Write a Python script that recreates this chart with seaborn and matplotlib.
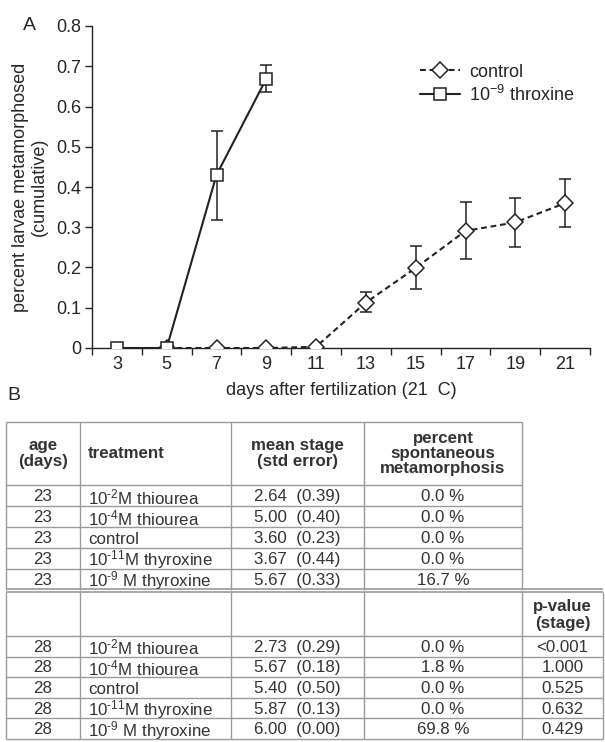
import matplotlib
matplotlib.use("Agg")
import matplotlib.pyplot as plt
import seaborn as sns

# panel A data
ctrl_days = [5, 7, 9, 11, 13, 15, 17, 19, 21]
ctrl_mean = [0.0, 0.0, 0.0, 0.003, 0.113, 0.199, 0.291, 0.312, 0.360]
ctrl_lo = [0.0, 0.0, 0.0, 0.003, 0.089, 0.146, 0.222, 0.252, 0.301]
ctrl_hi = [0.0, 0.0, 0.0, 0.003, 0.139, 0.254, 0.362, 0.372, 0.421]

thyr_days = [3, 5, 7, 9]
thyr_mean = [0.0, 0.0, 0.430, 0.669]
thyr_lo = [0.0, 0.0, 0.317, 0.636]
thyr_hi = [0.0, 0.0, 0.538, 0.702]

x_labels = ["3", "5", "7", "9", "11", "13", "15", "17", "19", "21"]

# panel B table
age_23 = ["23", "23", "23", "23", "23"]
age_28 = ["28", "28", "28", "28", "28"]
treatments = ["10$^{\u2010 2}$M thiourea", "10$^{\u2010 4}$M thiourea", "control",
              "10$^{\u2010 11}$M thyroxine", "10$^{\u2010 9}$ M thyroxine"]
stage_23 = [2.64, 5.00, 3.60, 3.67, 5.67]
se_23 = [0.39, 0.40, 0.23, 0.44, 0.33]
pct_23 = [0.0, 0.0, 0.0, 0.0, 16.7]
stage_28 = [2.73, 5.67, 5.40, 5.87, 6.00]
se_28 = [0.29, 0.18, 0.50, 0.13, 0.00]
pct_28 = [0.0, 1.8, 0.0, 0.0, 69.8]
pvals_28 = ["<0.001", "1.000", "0.525", "0.632", "0.429"]

sns.set_style("ticks")
plt.rcParams["font.family"] = ["Liberation Sans", "DejaVu Sans"]
plt.rcParams["mathtext.fontset"] = "custom"
plt.rcParams["mathtext.rm"] = "Liberation Sans"
plt.rcParams["mathtext.bf"] = "Liberation Sans:bold"
plt.rcParams["mathtext.default"] = "regular"

W, H = 605, 742
fig = plt.figure(figsize=(W / 100, H / 100), dpi=100)

# ---- panel A ----
ax = fig.add_axes([92 / W, 1 - 348 / H, 498 / W, 322 / H])
fs = 13

def draw_err(days, mean, lo, hi):
    # only points that actually have a spread get a bar
    keep = [i for i in range(len(days)) if hi[i] > lo[i]]
    x = [days[i] for i in keep]
    y = [mean[i] for i in keep]
    e = [[mean[i] - lo[i] for i in keep], [hi[i] - mean[i] for i in keep]]
    ax.errorbar(x, y, yerr=e, fmt="none", ecolor="#222222", elinewidth=1.1,
                capsize=4, capthick=1.1, zorder=2)

draw_err(ctrl_days, ctrl_mean, ctrl_lo, ctrl_hi)
draw_err(thyr_days, thyr_mean, thyr_lo, thyr_hi)

sns.lineplot(x=ctrl_days, y=ctrl_mean, ax=ax, color="#222222", linestyle=(0, (2.8, 1.8)),
             linewidth=1.5, marker="D", markersize=8, markerfacecolor="white",
             markeredgecolor="#222222", markeredgewidth=1.1, label="control", zorder=3)
sns.lineplot(x=thyr_days, y=thyr_mean, ax=ax, color="#222222", linestyle="-",
             linewidth=1.5, marker="s", markersize=8, markerfacecolor="white",
             markeredgecolor="#222222", markeredgewidth=1.1,
             label="10$^{-9}$ throxine", zorder=3)

ax.set_xlim(2, 22)
ax.set_ylim(0, 0.8)
ax.set_xticks(range(2, 23, 2))
ax.set_xticklabels([])
ax.set_xticks(range(3, 22, 2), minor=True)
ax.set_xticklabels(x_labels, minor=True)
ax.tick_params(axis="x", which="minor", length=0, labelsize=fs, pad=6)
ax.tick_params(axis="x", which="major", length=5, width=1, direction="out")
ax.set_yticks([0, 0.1, 0.2, 0.3, 0.4, 0.5, 0.6, 0.7, 0.8])
ax.set_yticklabels(["0", "0.1", "0.2", "0.3", "0.4", "0.5", "0.6", "0.7", "0.8"])
ax.tick_params(axis="y", length=5, width=1, labelsize=fs, pad=3)
for s in ["top", "right"]:
    ax.spines[s].set_visible(False)
for s in ["left", "bottom"]:
    ax.spines[s].set_linewidth(1)
    ax.spines[s].set_color("#222222")

ax.set_xlabel("days after fertilization (21  C)", fontsize=fs, labelpad=6)
ax.set_ylabel("percent larvae metamorphosed\n(cumulative)", fontsize=fs, labelpad=6,
              linespacing=1.1)

leg = ax.legend(loc="upper left", bbox_to_anchor=(0.645, 0.905), frameon=False,
                fontsize=fs, handlelength=2.2, handletextpad=0.5, labelspacing=0.2,
                borderaxespad=0)

fig.text(29 / W, 1 - 25 / H, "A", fontsize=14, ha="center", va="center")
fig.text(14 / W, 1 - 395 / H, "B", fontsize=14, ha="center", va="center")

# ---- panel B (table drawn in pixel space) ----
tab = fig.add_axes([0, 0, 1, 1])
tab.set_xlim(0, W)
tab.set_ylim(H, 0)
tab.axis("off")
tab.patch.set_alpha(0)

gc = "#9a9a9a"
cols = [6, 80, 231, 364, 522, 603]
top = 422
h1_bot = 485
rh = 21
sec2 = h1_bot + 5 * rh
h2_bot = 636
bottom = 739
rh2 = (bottom - h2_bot) / 5
tfs = 12.2

def hline(y, x0, x1, lw=1.0):
    tab.plot([x0, x1], [y, y], color=gc, lw=lw, solid_capstyle="butt")

def vline(x, y0, y1, lw=1.0):
    tab.plot([x, x], [y0, y1], color=gc, lw=lw, solid_capstyle="butt")

# upper block: 4 columns
hline(top, cols[0], cols[4])
hline(h1_bot, cols[0], cols[4])
for i in range(1, 5):
    hline(h1_bot + i * rh, cols[0], cols[4])
for c in cols[:5]:
    vline(c, top, sec2)
# section separator (double line)
hline(sec2 - 1, cols[0], cols[5], lw=1.2)
hline(sec2 + 2, cols[0], cols[5], lw=1.2)
# lower block: 5 columns
hline(h2_bot, cols[0], cols[5])
for i in range(1, 5):
    hline(h2_bot + i * rh2, cols[0], cols[5])
hline(bottom, cols[0], cols[5])
for c in cols:
    vline(c, sec2 + 2, bottom)

hy = (top + h1_bot) / 2
tab.text((cols[0] + cols[1]) / 2, hy, "age\n(days)", ha="center", va="center",
         fontsize=tfs, fontweight="bold", color="#333333", linespacing=1.1)
tab.text(cols[1] + 8, hy, "treatment", ha="left", va="center",
         fontsize=tfs, fontweight="bold", color="#333333")
tab.text((cols[2] + cols[3]) / 2, hy, "mean stage\n(std error)", ha="center", va="center",
         fontsize=tfs, fontweight="bold", color="#333333", linespacing=1.1)
tab.text((cols[3] + cols[4]) / 2, hy, "percent\nspontaneous\nmetamorphosis", ha="center",
         va="center", fontsize=tfs, fontweight="bold", color="#333333", linespacing=1.0)
tab.text((cols[4] + cols[5]) / 2, (sec2 + h2_bot) / 2 + 2, "p-value\n(stage)", ha="center",
         va="center", fontsize=tfs, fontweight="bold", color="#333333", linespacing=1.1)

def row(y, age, trt, st, se, pct, pv=None):
    tab.text((cols[0] + cols[1]) / 2, y, age, ha="center", va="center", fontsize=tfs, color="#333333")
    tab.text(cols[1] + 8, y + 0.5, trt, ha="left", va="center", fontsize=tfs, color="#333333")
    tab.text((cols[2] + cols[3]) / 2, y, f"{st:.2f}  ({se:.2f})", ha="center", va="center",
             fontsize=tfs, color="#333333")
    tab.text((cols[3] + cols[4]) / 2, y, f"{pct:.1f} %", ha="center", va="center",
             fontsize=tfs, color="#333333")
    if pv is not None:
        tab.text((cols[4] + cols[5]) / 2, y, pv, ha="center", va="center", fontsize=tfs,
                 color="#333333")

for i in range(5):
    row(h1_bot + (i + 0.5) * rh + 1, age_23[i], treatments[i], stage_23[i], se_23[i], pct_23[i])
    row(h2_bot + (i + 0.5) * rh2 + 1, age_28[i], treatments[i], stage_28[i], se_28[i], pct_28[i],
        pvals_28[i])

fig.savefig("out.png", dpi=100)
